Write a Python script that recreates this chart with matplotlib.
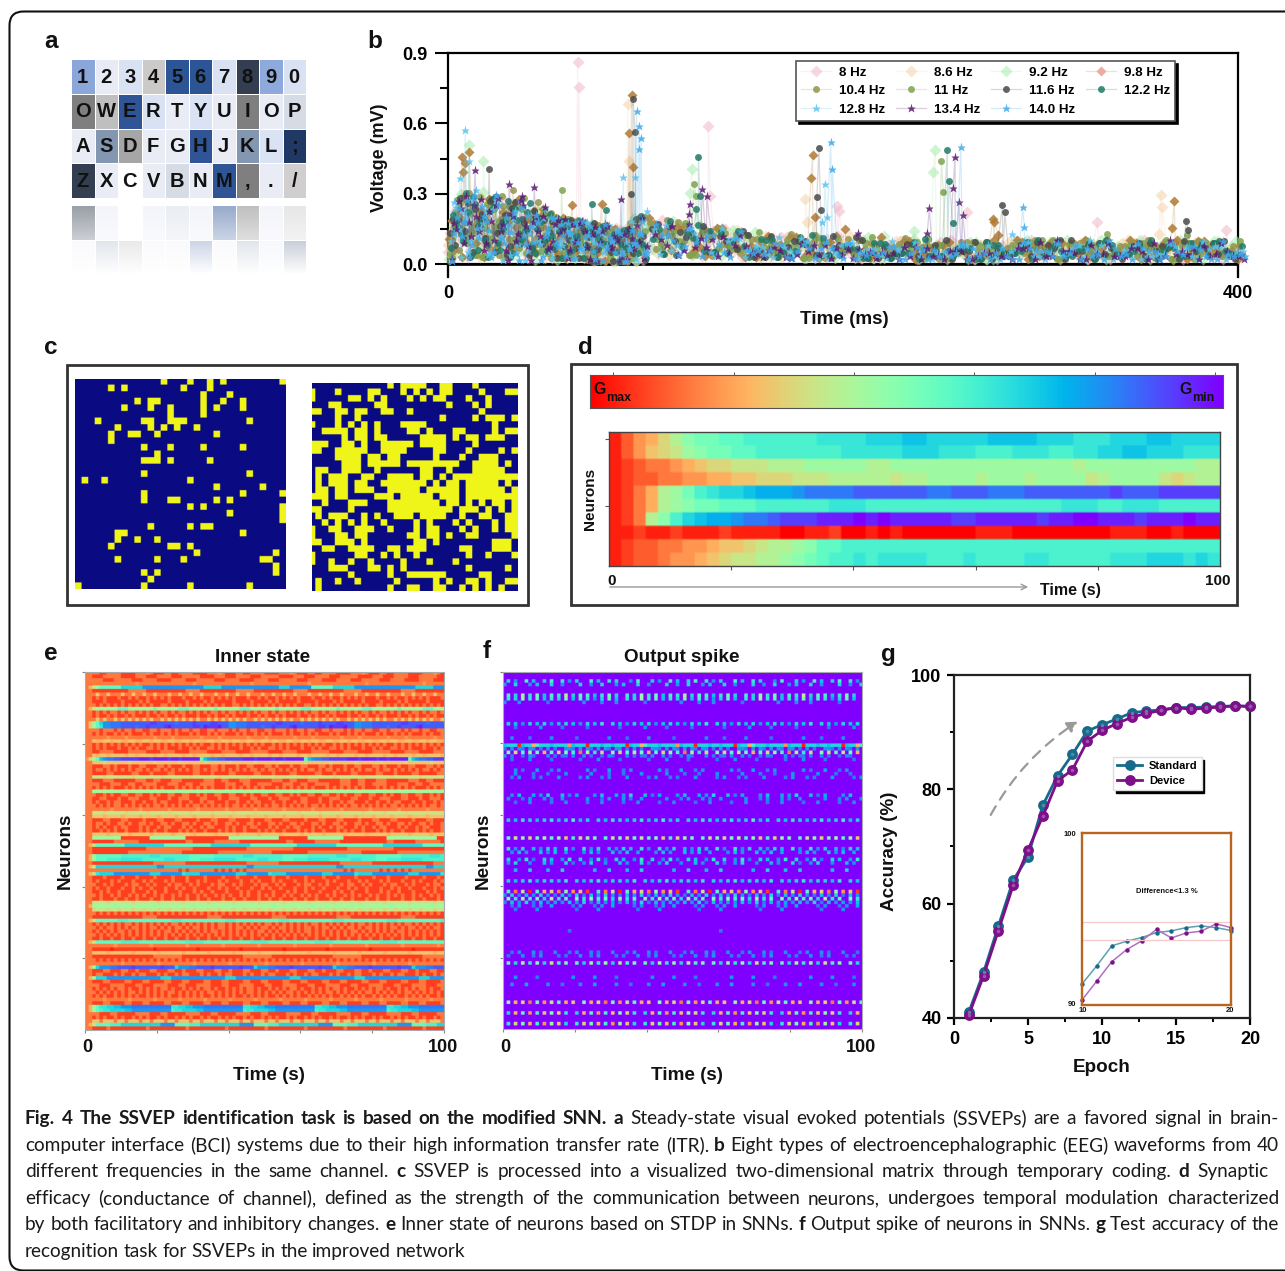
import numpy as np
import matplotlib
matplotlib.use("Agg")
import matplotlib.pyplot as plt
from matplotlib.colors import to_rgb, to_rgba, LinearSegmentedColormap
from matplotlib.patches import FancyBboxPatch, Rectangle, FancyArrowPatch

W, H = 1285, 1271
PANEL_FONT = "Liberation Sans"
CAPTION_FONT = "Lato"
plt.rcParams["font.family"] = PANEL_FONT
plt.rcParams["font.weight"] = "bold"
plt.rcParams["axes.labelweight"] = "bold"

# ---------- panel a ----------
KEY_LABELS = ["1234567890", "OWERTYUIOP", "ASDFGHJKL;", "ZXCVBNM,./"]
KEY_COLORS = [
    ["#8ba6d9", "#e8ebf5", "#d9e2f3", "#cccac9", "#2c5596", "#2c5596", "#d9e2f3", "#333f50", "#8ea9db", "#d9e2f3"],
    ["#7f7f7f", "#bfbfbf", "#2f5597", "#d9e2f3", "#e9ebf5", "#dae3f3", "#e9ebf5", "#7f7f7f", "#e9ebf5", "#d6dce5"],
    ["#e9ebf5", "#8497b0", "#a6a6a6", "#e9ebf5", "#e9ebf5", "#2f5597", "#e9ebf5", "#8497b0", "#dae3f3", "#203864"],
    ["#333f50", "#e9ebf5", "#ffffff", "#e9ebf5", "#d6dce5", "#e9ebf5", "#2f5597", "#7f7f7f", "#e9ebf5", "#d0cece"],
]

# ---------- panel b ----------
FREQ_LABELS = ["8 Hz", "8.6 Hz", "9.2 Hz", "9.8 Hz", "10.4 Hz", "11 Hz", "11.6 Hz", "12.2 Hz", "12.8 Hz", "13.4 Hz", "14.0 Hz"]
FREQ_COLORS = ["#f2b8c8", "#f3d3a8", "#a9ecac", "#b07a35", "#96924c", "#7fa350", "#4a4a4a", "#1f7a68", "#5cc4f0", "#5a1a70", "#3fa9ec"]
FREQ_MARKERS = ["D", "D", "D", "D", "o", "o", "o", "o", "*", "*", "*"]
FREQ_MS = [6.0, 6.5, 6.5, 5.5, 5.0, 5.0, 5.0, 5.0, 6.5, 6.5, 6.5]

# typed cloud heights (share of the cloud's top edge, in 1/30), early part of the trace
L_8 = [8,22,14,27,3,18,25,11,20,6,16,28,9,24,13,19,4,23,15,10,21,3,17,12,18,8,20,14,6,16,11,19,3,15,21,7,13,17,2,12]
L_86 = [12,4,24,17,29,8,21,14,26,10,18,3,23,15,27,7,20,12,25,9,16,22,6,19,3,8,21,11,17,5,20,14,8,18,2,20,6,16,9,14]
L_92 = [3,19,28,10,23,15,6,30,12,25,8,17,21,4,26,13,19,9,24,6,15,20,2,7,21,14,5,18,10,21,3,16,13,5,19,9,20,11,2,15]
L_98 = [15,7,20,29,11,24,17,3,27,14,9,22,18,6,28,12,21,8,16,25,10,19,5,22,13,7,20,15,3,20,6,17,21,9,14,19,2,12,20,8]
L_104 = [10,25,6,18,30,13,22,3,27,16,4,20,11,26,7,19,14,24,9,17,5,21,12,20,8,15,22,3,18,10,21,13,7,20,16,2,11,18,8,13]
L_11 = [6,17,26,12,21,4,28,15,9,23,18,3,25,11,14,29,5,20,10,24,16,8,19,6,22,3,9,21,15,5,17,11,20,2,14,10,18,4,13,9]
L_116 = [18,9,28,14,3,23,19,11,26,5,16,21,8,27,13,18,4,24,10,20,15,7,21,9,12,20,3,17,14,22,8,19,10,2,16,12,21,7,14,18]
L_122 = [9,20,13,30,4,25,16,10,22,28,6,18,3,24,9,15,27,5,19,11,23,8,16,21,6,13,22,3,18,7,14,21,9,17,2,20,11,15,7,12]
L_128 = [13,26,3,19,10,31,15,22,5,27,12,17,4,23,28,2,14,20,9,25,6,18,11,21,15,3,22,9,16,12,19,7,22,14,2,17,10,13,20,8]
L_134 = [3,16,24,29,12,20,27,9,18,25,14,6,22,10,28,17,2,21,13,26,8,19,15,22,7,11,21,17,3,20,12,22,9,16,2,18,21,10,14,4]
L_140 = [2,21,12,27,8,15,24,18,3,29,11,20,14,5,25,9,17,22,2,13,22,10,19,4,16,21,8,14,20,3,11,22,15,7,18,2,9,13,19,6]
# later part of the trace (1/9 of the top edge)
R_8 = [6,9,5,4,8,7,5,3,8,6,2,7,4,3,6,8,2,5,9,2,5,7,3,6,8,4,2,7,5,8,3,6,4,7,2]
R_86 = [9,4,7,6,8,3,6,8,2,5,7,4,9,6,2,8,5,3,7,4,2,6,8,3,5,7,2,3,8,4,6,2,5,7,3]
R_92 = [8,5,8,9,3,9,7,3,4,6,8,2,5,9,3,6,2,7,4,8,2,5,4,7,3,5,8,2,6,9,4,7,3,6,5]
R_98 = [9,7,8,4,9,6,5,8,3,7,2,9,4,2,6,8,3,7,5,2,6,4,8,3,7,5,3,9,4,2,6,8,4,5,3]
R_104 = [8,9,5,7,9,4,7,3,6,2,8,5,3,7,4,9,6,2,5,8,3,6,4,7,2,8,5,3,7,4,6,2,8,3,5]
R_11 = [7,6,9,8,4,8,3,5,7,2,6,8,4,9,3,5,2,7,4,8,5,3,6,9,2,5,7,3,6,8,3,4,2,7,5]
R_116 = [7,8,6,9,7,4,2,8,5,7,3,6,9,4,2,7,5,3,6,8,2,4,7,3,9,5,2,6,4,3,7,2,5,8,3]
R_122 = [5,9,7,3,8,9,4,7,2,6,8,3,5,7,2,4,9,3,6,2,7,4,8,3,5,6,2,7,4,2,5,3,6,8,4]
R_128 = [7,3,8,6,9,7,5,2,4,7,3,6,2,5,8,3,6,2,7,4,3,5,8,2,4,7,5,2,6,3,4,5,2,7,3]
R_134 = [6,8,9,4,7,8,3,5,2,4,6,3,5,2,4,3,6,2,5,3,4,2,6,3,5,2,4,3,6,2,3,5,2,4,3]
R_140 = [8,5,8,7,3,9,4,6,2,5,7,2,4,3,6,4,2,5,7,3,4,2,6,5,3,2,4,6,2,5,3,4,6,2,3]
FREQ_LEFT = [L_8, L_86, L_92, L_98, L_104, L_11, L_116, L_122, L_128, L_134, L_140]
FREQ_RIGHT = [R_8, R_86, R_92, R_98, R_104, R_11, R_116, R_122, R_128, R_134, R_140]
# top edge of the dense cloud
CLOUD_T = [0, 5, 20, 50, 75, 100, 125, 150, 200, 250, 300, 400]
CLOUD_TOP = [0.20, 0.30, 0.31, 0.28, 0.24, 0.20, 0.17, 0.14, 0.12, 0.105, 0.105, 0.10]

P_8 = [(65.6,.862),(66.3,.755),(131.8,.587),(132.7,.293),(196.8,.25),(198,.225),(263,.223),(328.8,.18),(394,.146)]
P_86 = [(91,.683),(91.8,.442),(181,.279),(182,.18),(360.8,.294),(361.7,.242),(360,.13)]
P_92 = [(10.6,.509),(17.9,.438),(123.5,.405),(122.5,.303),(114,.185),(246.6,.485),(245.7,.393),(220.8,.12),(236,.14)]
P_98 = [(7,.457),(8.6,.431),(10.8,.478),(7.8,.395),(93,.72),(91.8,.559),(93.8,.4125),(63,.253),(77.8,.257),
        (184.6,.464),(183.8,.368),(185.8,.203),(201,.15),(276,.193),(276.6,.18),(278.7,.125),(367.7,.27),(366.7,.154),(369,.104)]
P_104 = [(33,.317),(45.6,.266),(28,.25),(52,.22)]
P_11 = [(57.5,.317),(124.7,.343),(125.6,.293),(249.8,.44),(250.8,.31),(333.9,.13),(374,.125)]
P_116 = [(20.8,.407),(93.7,.704),(94.7,.565),(92.7,.30),(187.8,.494),(186.8,.287),(188.7,.232),(280.7,.252),(281.9,.222),(373.7,.183),(374.9,.148)]
P_122 = [(126.8,.458),(125.8,.235),(127.5,.29),(72.7,.256),(80,.232),(252.8,.486),(253.7,.353),(255.7,.174)]
P_128 = [(8.8,.57),(10.5,.438),(6,.367),(88.8,.37),(94.9,.37),(100.6,.225),(190.7,.343),(191.9,.203),(189.5,.18),(285.7,.13)]
P_134 = [(13.7,.4),(30.9,.343),(37.6,.289),(43.7,.331),(128.8,.321),(131,.289),(122.5,.256),(122,.215),(87.6,.277),
         (243.7,.239),(242.7,.135),(256.7,.459),(255.7,.324),(258.7,.267),(260.7,.21),(207.8,.132)]
P_140 = [(95.5,.651),(96.9,.59),(97.7,.54),(96.9,.49),(193.8,.522),(194.6,.407),(259.7,.499),(291,.246),(291.8,.158)]
FREQ_PEAKS = [P_8, P_86, P_92, P_98, P_104, P_11, P_116, P_122, P_128, P_134, P_140]
LEGEND_ORDER = [0, 4, 8, 1, 5, 9, 2, 6, 10, 3, 7]

# ---------- panel c: yellow cells per row ----------
C_LEFT = [
    [13,17,20,22,31],[5,7,16,20],[19,23],[9,11,12,19,22,25],[7,11,14,19,21,25],[14,19],[3,10,11,14,15,16,26],
    [6,11,13,15,18],[5,8,9,12,21],[5],[10,14,19,25],[12],[10,11,12,14,20],[],[10,26],[1,4,17],[21,28],
    [10,25,31],[10,14,15,21,23],[17,19,31],[23,31],[31],[11,17,19,20],[6,7,25],[6,9,12],[5,14,15,17],
    [18,30],[6,12,16,28,29],[30],[10,12,30],[11],[0,10,17,26],
]
C_RIGHT = [
    [12,14,15,16,17,20,21,25],[0,4,9,10,14,16,18,20,21,26,30,31],[0,6,7,9,11,15,17,19,20,24,27],
    [3,4,10,11,21,25,27],[0,1,4,5,7,8,11,12,15,26],[4,7,20,25,27,28,29,31],[0,4,6,8,10,14,15,16,17,28],
    [2,3,4,5,7,8,10,15,16,18,22,23,28,30,31],[5,7,8,10,11,17,18,19,20,22,24,25,27,28,29],
    [0,1,2,5,6,8,11,12,13,14,15,17,18,19,20,25],[0,1,4,5,6,7,8,11,12,13,14,19,20,24,29,31],
    [4,5,6,7,9,10,12,13,19,23,26,27,28],[5,6,7,9,10,11,12,13,15,16,17,18,19,20,21,22,25,26,27,28,30],
    [1,2,5,6,7,10,17,18,21,25,26,27,28,29],[1,3,4,5,8,9,12,13,14,15,17,18,20,22,23,24,25,26,27,28,29,30,31],
    [1,3,4,5,7,8,11,12,13,14,15,16,17,19,21,22,24,25,26,27,28,30],
    [1,2,4,5,7,8,9,12,13,14,15,16,18,19,20,21,22,24,25,26,27,28,29,31],
    [0,1,2,4,5,10,11,12,14,15,16,17,18,20,21,22,24,25,26,27,28,29,30,31],
    [2,6,7,8,12,13,14,15,16,17,18,19,21,22,24,26,28,29,31],
    [0,1,6,12,13,14,15,16,17,18,19,20,21,23,24,25,27,29,31],
    [1,3,4,5,8,10,13,14,15,17,18,19,20,23,26,27,30,31],[2,4,6,8,11,16,18,22,24,28,30,31],
    [0,3,4,7,8,9,12,16,18,19,23,25,28,30,31],[0,4,5,7,8,15,16,18,19,21,24,25,31],
    [0,1,4,5,6,8,16,17,19,28,29,30],[2,3,6,7,8,9,12,13,15,16,17,23,24,28,29,30],
    [0,7,8,11,13,16,24,27,31],[0,3,6,9,14,18,22],[3,4,5,9,10,12,14,24,30],[6,12,15,16,17,18,19,20,26,27],
    [1,4,7,13,19,21,24,25,27,30,31],[1,12,15,16,19,20,23,25,27,29],
]

# ---------- panel d (a = low conductance ... z = high) ----------
D_ROWS = [
    "ywutrpnmmllkkkkkkjjjjiiihhiiiiihhhhiiijjjiiihhiiii",
    "ywusrqonmmllkkkkkkkjjjjjiiijjjkkkjjjkkjjiihhiiijjj",
    "yxwvvutsrrqqqpppoooooppooooooooooooooopooooooooopp",
    "yxwwvvuuttssrrrqqqpppppqppoooopooopooooqpooooqrqpp",
    "yxvtpomkjiihgggfeeeeddddddeedddeeedddddddcdddccccc",
    "yxvtponmmlllkkkkkkjjjkkkkkkkkkkkkkkkkjjjkkjjjkkkkk",
    "yxvpnkihggfeedcccbbbababbbbbccbbbbbcbbaabbbcbbbabb",
    "yyxyyxyyyxyyyyzzyyxzzyzyzzzzzzyyyzzzzzzzzyyyzzyzzz",
    "yxwwvvuutssrqpponllkkkkkkkkkkkkkkkkkkkkkkkkkkkkkkk",
    "yxwwvuutsrqqpponmlkkjkjjjjkkkjkkkkjjkkkkkjjjiiijij",
]

# ---------- panel e: each row is "lead>repeating pattern" ----------
E_ROWS = [
    "vvxxvvvvxxxxvvvuvxxx","xxxvvvvvxxxxvvvxxxvvvv","vvvxxxvvvvvxxxvvvvxxxxv","vvvvvvvvvvvvuvvv",
    "vtqo>lllllliiiiiifffffffffffffffffiiiiiffffffffffffffffiiiffffff","xxxxxxxxxxvvvvvxxxxxxxxxxxvvvv","vsvvsvvvsvvsv",
    "xvxvxxxvxxvxvxxvxv","xxxvxxxxvxxxxvxvxx","vxvxvxvxvxvxvxvxvxxv","vtq>oooooollloooooool","xvxvxvvxvxvvxv","xvxxvxvxxvxvxx","vsvsvvsvsvsvs",
    "vsoli>ffeeeddddddddccdddddeddddcddddccddd","vsolj>ffeeeddddeddcddddcbddddddccdbcccbdd","vvxvvvxvxvvxvvxx","xvxvxxvxvxvxx","vvvvuvvvvuvvv","sttsstsstts",
    "xvxvxvxvxvxvxvxxv","xvxvxxxvxxvxvxxvv","xxvvvvxxxxvvvvvxx","stsstsss","uro>lhfeeddcccccbbbcbbbbcbbcbbbbb","sssrsss",
    "xxxvvxvxxxvxxvv","xvvxvxvxvxvxvvxv","xxxxvvxxxxxvvxxxv","qqqrqqqq","xxxvvvxxxxxxvvvxxvv","vvxxxvvvxxvvxxvv","xvxvxvxxxvxvxv","ooppoopo",
    "vxxvxvxxvvxxv","xxvvxxxvxxvvvx","xvxxvxvvxxxvx","vxvxvxvvxvx","vvvvvuvv","qqqrqq","sssts",
    "xxxvvxxxvvxxxxv","xvvxvxxvvxvx","xvxvxxvxvvxx","xxvxvxvxxvx","ssssts","ooooooooxxxxxxxxooooooooooxxxxxxxxxxxxoooooo",
    "xxxxxxvvvvvvvxxxxxxxxxxxxxvv","vtq>lllllllliiiiiiiiiiilllll","xxxxxxxxxxxxxxxvvvvvvvvvvvvv","xxxxxxxxxxvvvvvvvvvvvvvvv",
    "vto>lllllllkkkkkkkkjjjkkkkkkkk","vto>lllkkkkjjjjjjkkkkkkjjjkkkk","xxxxxxxxxxxxxxxxxvvvvvvvvv","vtq>iiiiiiiiiiiiiiiiiffiiiiii","vvvvvvvvvvvvvvvvvvvvvvvvxvxvvvvvvvxvxvxvxvxvvv",
    "vtq>jiiiiffffffffffiiiffffff","xxxvxxxxvxxxvx","xvxxxvxvxxxvxxv","vxxvxvxxxvxv","xvxxvxxxvxxv","xxvxvxxvxxxvx","vxvxxvxvxxvx","xxvxxxvxxv",
    "qqqqrqq","vto>ooooonooooo","rqqqrqq","vxvxvxvxvxvxvx","xxxxxxxxxxxxxxvvvv","vtq>llllllkkkllllll","xvxvxvxvxvvxv","vxvxvvxvxvxv","xvxvxvxvvxvxv","vxvxvxvxvxvx","xxvxxvxxvxxv",
    "vtq>lllllllkkkkkllllll","vvvvvvuvvv","xxxxxyxxxxxx","sssstss","xxxxxxxxxxxxxxxxxvvvvvvvv","vxvxvxvxvx","vvvvvvvvuv",
    "vto>ifffeeddddcdddddddcddd","xxxvvxxxvvxxv","xvvxxxvxvxxv","vto>iiifffffffffffffff","xxxvvxxxxvv","vvxxxvvvvxxx","xvxvxvxvvxvx","vxvxvxvxvxv","xvxvxxvxv",
    "vvvuvvv","xxxvvxxxxvv","vtol>jjiihhfffeeeeeeeeeee","vtol>kjjiiiihhfffffffffff","vvxxxvvxxxxxvv","xvxvxxvxvxxv","ssvsssv","vtq>llllkkkiiiiiiiiiiiffff","xxxxvxxxxxx",
]

# ---------- panel f: rows that carry spikes; every other row stays at the base value ----------
F_ACTIVE_ROWS = [2,3,6,7,8,14,15,18,20,21,22,23,24,27,28,29,34,35,36,41,46,49,50,52,53,55,58,61,62,63,64,65,66,72,78,79,81,85,87,92,95,98]
F_PATTERNS = [
    ".i.f..k.h..i.k..j.f.i...k.h..j.i...f.k..", "f..i...f.h...i..f....i..", ".k.i.o.j.m.h.k.j.p.i.l.k.h.j.m.i.", ".j.i.n.j.l.h.j.i.m.h.k.j.f.i.l.h.", "f...f.......e.........f....",
    ".i.h.f.i.h.i.f.h.i.h.f.i.h.j.", "...e......f.....e......e.....", "..f....e.....f......e......", "hiiiyhiitkiiihiiiiuhiiiyiiihii", "e.f.fe.ff.e.f.e..ffe.f.f", ".n.r.l.q.m.t.l.r.n.k.v.p.j.r.", "f.e..e.fe...f.e.ee.f..", "..e....f.....e.....",
    "...f.e...g...e.f....", "...f....e...e....f...", "..e.f...e.e....f...", "..f.h...g.f.i...h.e.g..", ".f...e.f...f.e..f.....", "...e...f.....e...f..", ".i.h.j.i.h.i.j.h.i.k.h.i.",
    ".l.q.n.r.m.p.l.n.s.k.r.o.m.", ".j.f.i..h.f.i.h..j.f.", "..f.h.f...h.f.h..g..", ".i..f.j.e..i.h..f.j.", ".f.i...f...h.f...i.e.", "...h...i....h...i.....", ".i.h.i.j.h.i.i.h.j.", ".k.v.q.y.l.t.r.v.n.u.s.x.",
    "f.i.e.h.f.i.f.e.h.", ".n.j.o.k.m.i.p.j.l.", "f.h.f.i.e.h.f.g.", "..e.f...e.f..g...", "...e.....f.......", "..................e.......................", "..e.f...f.e...f.", ".e...f..e.f....e", ".l.i.o.j.n.i.q.k.m.",
    "...f.....e.........f..", "..f...g.....f...e..", ".n.t.r.v.m.u.q.l.t.s.", ".i.t.l.u.k.s.n.r.j.", ".j.r.m.t.k.u.o.s.i.",
]

# ---------- panel g ----------
EPOCHS = list(range(1, 21))
STANDARD = [41.0, 48.0, 56.1, 64.1, 68.2, 77.2, 82.4, 86.1, 90.2, 91.3, 92.3, 93.4, 93.7, 93.9, 94.3, 94.3, 94.4, 94.5, 94.6, 94.5]
DEVICE = [40.5, 47.4, 55.3, 63.2, 69.4, 75.3, 81.5, 83.4, 88.4, 90.3, 91.5, 92.6, 93.3, 93.8, 94.3, 94.0, 94.2, 94.4, 94.6, 94.5]
INSET_X = list(range(10, 21))
INSET_STANDARD = [91.22, 92.29, 93.44, 93.71, 93.92, 94.21, 94.31, 94.5, 94.6, 94.5, 94.33]
INSET_DEVICE = [90.29, 91.4, 92.52, 93.22, 93.73, 94.39, 93.9, 94.19, 94.29, 94.72, 94.5]
INSET_BOUNDS = [94.8, 93.8]

CAPTION = [
    [("Fig. 4 The SSVEP identification task is based on the modified SNN. a", True), ("Steady-state visual evoked potentials (SSVEPs) are a favored signal in brain-", False)],
    [("computer interface (BCI) systems due to their high information transfer rate (ITR).", False), ("b", True), ("Eight types of electroencephalographic (EEG) waveforms from 40", False)],
    [("different frequencies in the same channel.", False), ("c", True), ("SSVEP is processed into a visualized two-dimensional matrix through temporary coding.", False), ("d", True), ("Synaptic", False)],
    [("efficacy (conductance of channel), defined as the strength of the communication between neurons, undergoes temporal modulation characterized", False)],
    [("by both facilitatory and inhibitory changes.", False), ("e", True), ("Inner state of neurons based on STDP in SNNs.", False), ("f", True), ("Output spike of neurons in SNNs.", False), ("g", True), ("Test accuracy of the", False)],
    [("recognition task for SSVEPs in the improved network", False)],
]
CAPTION_RIGHT = [1279, 1279, 1268, 1279, 1279, None]
CAPTION_BASELINE = [1124, 1151, 1177, 1204, 1230, 1257]

LABEL_SIZE = 13.6
INK = "#111111"

# ---------- figure ----------
fig = plt.figure(figsize=(W / 100, H / 100), dpi=100, facecolor="white")


def px_axes(l, t, r, b, **kw):
    return fig.add_axes([l / W, 1 - b / H, (r - l) / W, (b - t) / H], **kw)


def letter_values(spec, n, lead=""):
    if ">" in spec:
        lead, spec = spec.split(">")
    body = spec * (n // len(spec) + 1)
    return [0.0 if c == "." else (ord(c) - 97) / 25 for c in (lead + body)[:n]]


def soft(data, n):
    return np.repeat(np.repeat(np.asarray(data), n, axis=0), n, axis=1)


ov = fig.add_axes([0, 0, 1, 1], zorder=20)
ov.set_xlim(0, W)
ov.set_ylim(H, 0)
ov.axis("off")
ov.patch.set_alpha(0)
bg = fig.add_axes([0, 0, 1, 1], zorder=-1)
bg.set_xlim(0, W)
bg.set_ylim(H, 0)
bg.axis("off")

bg.add_patch(FancyBboxPatch((9.5, 11.5), 1400, 1259, boxstyle="round,pad=0,rounding_size=14", fc="none", ec="#111111", lw=1.5))
bg.add_patch(Rectangle((67, 364.5), 460.5, 240, fc="white", ec="#333333", lw=2.0))
bg.add_patch(Rectangle((571, 363.5), 665.5, 241, fc="white", ec="#333333", lw=2.0))

for s, x, y in [("a", 51, 42), ("b", 375, 42), ("c", 51, 348), ("d", 585, 348), ("e", 51, 653), ("f", 487, 652), ("g", 888, 654)]:
    ov.text(x, y, s, fontsize=17.5, ha="center", va="center", color=INK)

# panel a
ax = px_axes(71, 59, 306, 198)
cols = np.array([[to_rgb(c) for c in row] for row in KEY_COLORS])
ax.pcolormesh(np.arange(11), np.arange(5), cols, edgecolors="white", linewidth=0.6)
ax.set_xlim(0, 10)
ax.set_ylim(4, 0)
ax.axis("off")
for i, row in enumerate(KEY_LABELS):
    for j, ch in enumerate(row):
        ax.text(j + 0.5, i + 0.52, ch, ha="center", va="center", fontsize=14.5, color=INK)
ax = px_axes(71, 205, 306, 274)
ax.pcolormesh(np.arange(11), np.arange(3), cols[[3, 2]], edgecolors="white", linewidth=0.6)
fade = np.ones((64, 1, 4))
fade[:, 0, 3] = np.linspace(0.5, 1.0, 64)
ax.imshow(fade, extent=(0, 10, 2, 0), aspect="auto", zorder=3)
ax.set_xlim(0, 10)
ax.set_ylim(2, 0)
ax.axis("off")

# panel b
ax = px_axes(448, 53, 1238, 277)
t_left = np.arange(0, 100, 2.5)
t_right = np.arange(35) * 8.6 + 100
handles = []
for k, (lab, col, mk, ms, left, right, peaks) in enumerate(zip(FREQ_LABELS, FREQ_COLORS, FREQ_MARKERS, FREQ_MS, FREQ_LEFT, FREQ_RIGHT, FREQ_PEAKS)):
    tt, vv = [], []
    for sweep in range(2):
        t = t_left + k * 0.2 + sweep * 1.25
        tt.append(t)
        vv.append(np.array(left[sweep * 5:] + left[:sweep * 5]) / 30 * np.interp(t, CLOUD_T, CLOUD_TOP))
    for sweep in range(3):
        t = t_right + k * 0.55 + sweep * 2.87
        tt.append(t)
        vv.append(np.array(right[sweep * 7:] + right[:sweep * 7]) / 9 * np.interp(t, CLOUD_T, CLOUD_TOP))
    pk = np.array(peaks)
    tt = np.concatenate(tt + [pk[:, 0]])
    vv = np.concatenate(vv + [pk[:, 1]])
    o = np.argsort(tt)
    alpha = 0.55 if k < 3 else 0.85
    h, = ax.plot(tt[o], vv[o], color=to_rgba(col, 0.22), lw=0.9, marker=mk, ms=ms,
                 mfc=to_rgba(col, alpha), mec="none", label=lab, clip_on=False, zorder=3 + k)
    handles.append(h)
ax.axhline(0, color=INK, lw=2, zorder=2)
ax.set_xlim(0, 400)
ax.set_ylim(-0.054, 0.9)
ax.set_xticks([0, 400])
ax.set_xticks([200], minor=True)
ax.set_yticks([0, 0.3, 0.6, 0.9])
ax.set_yticks([0.15, 0.45, 0.75], minor=True)
ax.set_xticklabels(["0", "400"])
ax.set_yticklabels(["0.0", "0.3", "0.6", "0.9"])
ax.tick_params(axis="y", which="major", labelsize=13, length=9.4, width=1.5, pad=5.5)
ax.tick_params(axis="y", which="minor", length=5.5, width=1.5)
ax.tick_params(axis="x", which="major", labelsize=13, length=9, width=1.5, pad=6)
ax.tick_params(axis="x", which="minor", length=4.5, width=1.5)
for sp in ax.spines.values():
    sp.set_linewidth(1.6)
ax.spines["bottom"].set_position(("data", 0))
ax.patch.set_alpha(0)
leg = ax.legend(handles=[handles[i] for i in LEGEND_ORDER], ncol=4, loc="upper left",
                bbox_to_anchor=((796 - 448) / 790, (277 - 61) / 224), borderaxespad=0,
                fontsize=9.6, frameon=True, fancybox=False, framealpha=1, edgecolor="#555555",
                shadow={"facecolor": "k", "edgecolor": "k", "alpha": 1}, handlelength=2.25, handletextpad=0.6,
                columnspacing=0.8, labelspacing=0.46, borderpad=0.4)
leg.set_zorder(30)
leg.get_frame().set_linewidth(1.2)
leg.legend_handles[LEGEND_ORDER.index(3)].set_markerfacecolor("#efaaa0")
ov.text(380, 158, "Voltage (mV)", rotation=90, fontsize=13, ha="center", va="center", color=INK)
ov.text(844, 320, "Time (ms)", fontsize=LABEL_SIZE, ha="center", va="center", color=INK)


# panel c
def bitmap(rows, n=32):
    m = np.zeros((n, n))
    for i, r in enumerate(rows):
        m[i, r] = 1
    return m


cmap_c = LinearSegmentedColormap.from_list("c", ["#0a0a82", "#f0f519"])
ax = px_axes(75, 379, 286, 589)
ax.imshow(soft(bitmap(C_LEFT), 5), cmap=cmap_c, aspect="auto", interpolation="bilinear", extent=(-0.5, 31.5, 31.5, -0.5))
ax.axis("off")
ax = px_axes(312, 383, 518, 591)
ax.imshow(soft(bitmap(C_RIGHT), 5), cmap=cmap_c, aspect="auto", interpolation="bilinear", extent=(-0.5, 31.5, 31.5, -0.5))
ax.set_xlim(0.0, 31.5)
ax.axis("off")

# panel d
ax = px_axes(590, 375, 1223, 408)
ax.imshow(np.linspace(1, 0, 512)[None, :], cmap="rainbow", aspect="auto", extent=(0, 1, 0, 1))
ax.set_yticks([])
ax.set_xticks(np.arange(6) * 0.19 + 0.037)
ax.set_xticklabels([])
ax.xaxis.tick_top()
ax.tick_params(length=2, width=0.7, color="#555555")
for sp in ax.spines.values():
    sp.set_color("#555555")
    sp.set_linewidth(0.8)
ov.text(593, 390, "G", fontsize=11.5, va="center", color=INK)
ov.text(606, 398, "max", fontsize=9, va="center", color=INK)
ov.text(1179, 390, "G", fontsize=11.5, va="center", color=INK)
ov.text(1192, 398, "min", fontsize=9, va="center", color=INK)

ax = px_axes(609, 432, 1220, 566)
ax.imshow(soft(np.array([letter_values(r, 50) for r in D_ROWS]), 6), cmap="rainbow", vmin=0, vmax=1, aspect="auto",
          extent=(0, 100, 10, 0), interpolation="bilinear")
ax.set_xticks([20, 40, 60, 80])
ax.set_xticklabels([])
ax.set_yticks([0.5, 5.5])
ax.set_yticklabels([])
ax.tick_params(length=3, width=0.8, color="#555555")
for sp in ax.spines.values():
    sp.set_color("#444444")
    sp.set_linewidth(1.0)
ov.text(612, 581, "0", fontsize=11, ha="center", va="center", color=INK)
ov.text(1218, 581, "100", fontsize=11, ha="center", va="center", color=INK)
ov.text(590, 499, "Neurons", rotation=90, fontsize=11, ha="center", va="center", color=INK)
ov.text(1070, 590, "Time (s)", fontsize=11.5, ha="center", va="center", color=INK)
ov.annotate("", xy=(1031, 587), xytext=(607, 587), arrowprops=dict(arrowstyle="->", color="#999999", lw=1))

# panels e, f
E_DATA = np.array([letter_values(r, 100, "vv") for r in E_ROWS])
F_DATA = np.zeros((100, 100))
for r, p in zip(F_ACTIVE_ROWS, F_PATTERNS):
    F_DATA[r] = letter_values(p, 100)

for box, data, title, tx, ny, tsx in [
    ((85, 672, 444, 1030), E_DATA, "Inner state", 263, 65, 269),
    ((503, 672, 862, 1029), F_DATA, "Output spike", 682, 483, 687),
]:
    ax = px_axes(*box)
    ax.imshow(soft(data, 3), cmap="rainbow", vmin=0, vmax=1, aspect="auto", extent=(0, 100, 100, 0), interpolation="bilinear")
    ax.set_xticks([0, 20, 40, 60, 80, 100])
    ax.set_xticklabels([])
    ax.set_yticks([0, 20, 40, 60, 80])
    ax.set_yticklabels([])
    ax.tick_params(length=2, width=0.8, color="#888888")
    for sp in ax.spines.values():
        sp.set_color("#aaaaaa")
        sp.set_linewidth(0.8)
    ov.text(tx, 658, title, fontsize=LABEL_SIZE, ha="center", va="center", color=INK)
    ov.text(ny, 851, "Neurons", rotation=90, fontsize=LABEL_SIZE, ha="center", va="center", color=INK)
    ov.text(tsx, 1075, "Time (s)", fontsize=LABEL_SIZE, ha="center", va="center", color=INK)
    ov.text(box[0] + 2, 1047, "0", fontsize=13, ha="center", va="center", color=INK)
    ov.text(box[2] - 1, 1047, "100", fontsize=13, ha="center", va="center", color=INK)

# panel g
ax = px_axes(954, 675, 1250, 1018)
C_STD, C_DEV = "#176a8c", "#7d1088"
for ys, c, glint, lab in [(STANDARD, C_STD, "#4a8ca5", "Standard"), (DEVICE, C_DEV, "#a050b5", "Device")]:
    ax.plot(EPOCHS, ys, color=c, lw=2.0, marker="o", ms=6.8, mfc=c, mec=c, label=lab, clip_on=False, zorder=4)
    ax.plot(EPOCHS, ys, ls="none", marker="o", ms=2.6, mfc=glint, mec="none", clip_on=False, zorder=5)
ax.set_xlim(0, 20)
ax.set_ylim(40, 100)
ax.set_xticks([0, 5, 10, 15, 20])
ax.set_xticks([2.5, 7.5, 12.5, 17.5], minor=True)
ax.set_yticks([40, 60, 80, 100])
ax.set_yticks([50, 70, 90], minor=True)
ax.tick_params(which="major", labelsize=13, length=5, width=1.6, pad=4)
ax.tick_params(which="minor", length=3, width=1.4)
for sp in ax.spines.values():
    sp.set_linewidth(1.6)
    sp.set_color("#222222")
ax.add_patch(FancyArrowPatch((2.39, 75.1), (8.5, 92.1), connectionstyle="arc3,rad=-0.13", arrowstyle="-|>,head_length=6,head_width=3.5",
                             color="#999999", lw=1.6, linestyle=(0, (4.5, 3.5)), zorder=3))
leg = ax.legend(loc="upper left", bbox_to_anchor=((1113 - 954) / 296, (1018 - 757) / 343), borderaxespad=0, fontsize=8, frameon=True,
                fancybox=False, framealpha=1, edgecolor="#dddddd", shadow={"facecolor": "k", "edgecolor": "k", "alpha": 1},
                handlelength=2.3, handletextpad=0.6, labelspacing=0.45, borderpad=0.35)
leg.set_zorder(6)
ov.text(890, 851, "Accuracy (%)", rotation=90, fontsize=LABEL_SIZE, ha="center", va="center", color=INK)
ov.text(1102, 1067, "Epoch", fontsize=LABEL_SIZE, ha="center", va="center", color=INK)

ins = px_axes(1082, 833, 1231, 1005, zorder=8)
ins.plot(INSET_X, INSET_STANDARD, color="#5f9fb0", lw=1.1, marker="o", ms=2.2, mfc=C_STD, mec=C_STD, clip_on=False)
ins.plot(INSET_X, INSET_DEVICE, color="#b070c0", lw=1.1, marker="o", ms=2.2, mfc=C_DEV, mec=C_DEV, clip_on=False)
for b in INSET_BOUNDS:
    ins.axhline(b, color="#f5c8cc", lw=0.9)
ins.set_xlim(10, 20)
ins.set_ylim(90, 100)
ins.set_xticks([])
ins.set_yticks([])
for sp in ins.spines.values():
    sp.set_color("#b9651f")
    sp.set_linewidth(1.7)
ins.text(0.57, 0.66, "Difference<1.3 %", transform=ins.transAxes, fontsize=5.5, ha="center", va="center", color=INK)
for s, x, y in [("100", 1070, 835), ("90", 1072, 1005), ("10", 1083, 1011), ("20", 1230, 1011)]:
    ov.text(x, y, s, fontsize=5.5, ha="center", va="center", color=INK)

# caption
renderer = fig.canvas.get_renderer()
for segs, right, y in zip(CAPTION, CAPTION_RIGHT, CAPTION_BASELINE):
    words = []
    for txt, bold in segs:
        words += [(w, bold) for w in txt.split(" ")]
    arts = [ov.text(0, y, w, fontsize=13.7, fontfamily=CAPTION_FONT, fontweight=("bold" if b else "normal"),
                    va="baseline", ha="left", color="#1a1a1a") for w, b in words]
    widths = [a.get_window_extent(renderer).width for a in arts]
    gap = 4.6 if right is None else (right - 25 - sum(widths)) / (len(arts) - 1)
    x = 25.0
    for a, w in zip(arts, widths):
        a.set_x(x)
        x += w + gap

fig.savefig("out.png", dpi=100)
